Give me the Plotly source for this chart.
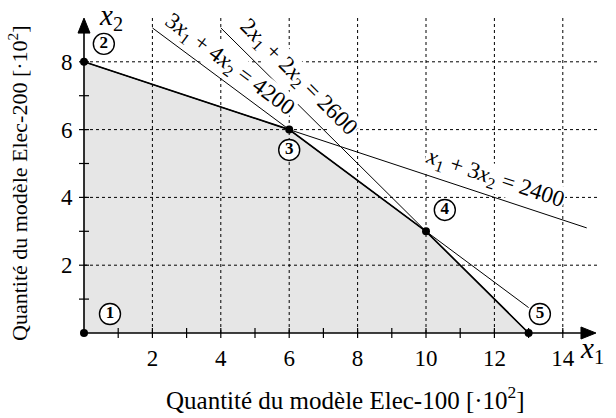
import plotly.graph_objects as go
import numpy as np

# ---- data ----
# constraints a*x1 + b*x2 = c   (values in units of 100)
coef_a = [3, 2, 1]
coef_b = [4, 2, 3]
coef_c = [4200, 2600, 2400]
line_labels = ["3<i>x</i><sub>1</sub> + 4<i>x</i><sub>2</sub> = 4200",
               "2<i>x</i><sub>1</sub> + 2<i>x</i><sub>2</sub> = 2600",
               "<i>x</i><sub>1</sub> + 3<i>x</i><sub>2</sub> = 2400"]
line_x_start = [2, 4, 0]
line_x_end = [13, 13, 14.7]

# feasible region vertices
vertex_x = [0, 0, 6, 10, 13]
vertex_y = [0, 8, 6, 3, 0]
vertex_names = ["1", "2", "3", "4", "5"]

x_ticks = [2, 4, 6, 8, 10, 12, 14]
y_ticks = [2, 4, 6, 8]
x_minor = [1, 3, 5, 7, 9, 11, 13]
y_minor = [1, 3, 5, 7]

x_title = "Quantité du modèle Elec-100 [·10<sup>2</sup>]"
y_title = "Quantité du modèle Elec-200 [·10<sup>2</sup>]"

SERIF = "Liberation Serif"
W, H = 616, 418
PX, PY = 34.2, 33.9          # pixels per data unit
L, R, T, B = 74, 10, 8, 75   # margins
OX, OY = 84, 333             # pixel position of the origin
X_MAX_AX, Y_MAX_AX = 14.97, 9.29
GRID_X_END, GRID_Y_END = 15.0, 9.3

xr0 = -(OX - L) / PX
xr1 = xr0 + (W - L - R) / PX
yr0 = -(H - B - OY) / PY
yr1 = yr0 + (H - T - B) / PY


def paper_x(px):
    return (px - L) / (W - L - R)


def paper_y(py):
    return (H - B - py) / (H - T - B)


def data_x(px):
    return (px - OX) / PX


def data_y(py):
    return (OY - py) / PY


fig = go.Figure()


def add(tr):
    fig.add_trace(tr)


# feasible region
add(go.Scatter(x=vertex_x + [vertex_x[0]], y=vertex_y + [vertex_y[0]],
               mode="lines", fill="toself", fillcolor="#e6e6e6",
               line=dict(width=0), hoverinfo="skip", showlegend=False))

# grid
gx, gy = [], []
for v in x_ticks:
    gx += [v, v, None]
    gy += [0, GRID_Y_END, None]
for v in y_ticks:
    gx += [0, GRID_X_END, None]
    gy += [v, v, None]
add(go.Scatter(x=gx, y=gy, mode="lines",
               line=dict(color="black", width=1, dash="3px,3px"),
               hoverinfo="skip", showlegend=False))

# constraint lines
for a, b, c, x0, x1 in zip(coef_a, coef_b, coef_c, line_x_start, line_x_end):
    xs = np.array([x0, x1], dtype=float)
    ys = (c / 100 - a * xs) / b
    add(go.Scatter(x=xs, y=ys, mode="lines", line=dict(color="black", width=1),
                   hoverinfo="skip", showlegend=False))

# polygon border (upper edges)
add(go.Scatter(x=vertex_x[1:], y=vertex_y[1:], mode="lines",
               line=dict(color="black", width=1.7), hoverinfo="skip", showlegend=False))

# axes
ax_len_x, ax_len_y = 15 / PX, 15 / PY
add(go.Scatter(x=[0, X_MAX_AX - ax_len_x, None, 0, 0], y=[0, 0, None, 0, Y_MAX_AX - ax_len_y],
               mode="lines", line=dict(color="black", width=1.6),
               hoverinfo="skip", showlegend=False))
# arrow heads
add(go.Scatter(x=[X_MAX_AX - ax_len_x, X_MAX_AX, X_MAX_AX - ax_len_x, X_MAX_AX - ax_len_x],
               y=[6 / PY, 0, -6 / PY, 6 / PY], mode="lines", fill="toself",
               fillcolor="black", line=dict(color="black", width=1),
               hoverinfo="skip", showlegend=False))
add(go.Scatter(x=[-6 / PX, 0, 6 / PX, -6 / PX],
               y=[Y_MAX_AX - ax_len_y, Y_MAX_AX, Y_MAX_AX - ax_len_y, Y_MAX_AX - ax_len_y],
               mode="lines", fill="toself", fillcolor="black",
               line=dict(color="black", width=1), hoverinfo="skip", showlegend=False))

# tick marks
tx, ty = [], []
for v in x_ticks + x_minor:
    tx += [v, v, None]
    ty += [-5 / PY, 5 / PY, None]
for v in y_ticks + y_minor:
    tx += [-5 / PX, 5 / PX, None]
    ty += [v, v, None]
add(go.Scatter(x=tx, y=ty, mode="lines", line=dict(color="black", width=1.2),
               hoverinfo="skip", showlegend=False))

# vertices
add(go.Scatter(x=vertex_x, y=vertex_y, mode="markers",
               marker=dict(color="black", size=8),
               cliponaxis=False, hoverinfo="skip", showlegend=False))

# vertex labels (circled numbers)
name_pos_x = [0.76, 0.58, 6.0, 10.55, 13.33]
name_pos_y = [0.56, 8.53, 5.4, 3.63, 0.56]
add(go.Scatter(x=name_pos_x, y=name_pos_y, mode="markers+text",
               marker=dict(symbol="circle", size=21, color="white",
                           line=dict(color="black", width=1.4)),
               text=["<b>" + t + "</b>" for t in vertex_names], textposition="middle center",
               textfont=dict(family=SERIF, size=17, color="black"),
               cliponaxis=False, hoverinfo="skip", showlegend=False))

annotations = []
annotations.append(dict(x=paper_x(592), y=paper_y(350), xref="paper", yref="paper",
                        xanchor="center", yanchor="middle",
                        showarrow=False, text="<i>x</i><sub>1</sub>",
                        font=dict(family=SERIF, size=29, color="black")))
annotations.append(dict(x=paper_x(111), y=paper_y(17), xref="paper", yref="paper",
                        xanchor="center", yanchor="middle",
                        showarrow=False, text="<i>x</i><sub>2</sub>",
                        font=dict(family=SERIF, size=29, color="black")))

# constraint labels (centres in pixel space of the reference), nudged off the line
label_px = [(227, 68), (296, 80), (494, 182)]
NUDGE = 3.5
for a, b, (lx, ly), t in zip(coef_a, coef_b, label_px, line_labels):
    th = np.arctan((a / b) * PY / PX)
    ang = float(np.degrees(th))
    cx = lx + NUDGE * np.sin(th)
    cy = ly - NUDGE * np.cos(th)
    annotations.append(dict(x=data_x(cx), y=data_y(cy), xref="x", yref="y", text=t,
                            showarrow=False, xanchor="center", yanchor="middle",
                            textangle=ang, bgcolor="white", borderpad=0,
                            font=dict(family=SERIF, size=23, color="black")))

# axis titles
annotations.append(dict(x=paper_x(345), y=paper_y(398), xref="paper", yref="paper",
                        xanchor="center", yanchor="middle",
                        showarrow=False, text=x_title,
                        font=dict(family=SERIF, size=25, color="black")))
annotations.append(dict(x=paper_x(18), y=paper_y(183), xref="paper", yref="paper",
                        xanchor="center", yanchor="middle",
                        showarrow=False, text=y_title, textangle=-90,
                        font=dict(family=SERIF, size=22, color="black")))

fig.update_layout(
    width=W, height=H,
    margin=dict(l=L, r=R, t=T, b=B),
    plot_bgcolor="white", paper_bgcolor="white",
    annotations=annotations,
    xaxis=dict(range=[xr0, xr1], showgrid=False, zeroline=False, showline=False,
               anchor="free", position=paper_y(OY),
               tickvals=x_ticks, ticktext=[str(v) for v in x_ticks],
               ticks="outside", ticklen=4, tickcolor="rgba(0,0,0,0)",
               tickfont=dict(family=SERIF, size=23, color="black")),
    yaxis=dict(range=[yr0, yr1], showgrid=False, zeroline=False, showline=False,
               anchor="free", position=paper_x(OX),
               tickvals=y_ticks, ticktext=[str(v) for v in y_ticks],
               ticks="outside", ticklen=7, tickcolor="rgba(0,0,0,0)",
               tickfont=dict(family=SERIF, size=23, color="black")),
)

fig.write_html("out.html", config={"displayModeBar": False},
               post_script="document.body.style.margin='0px';")
